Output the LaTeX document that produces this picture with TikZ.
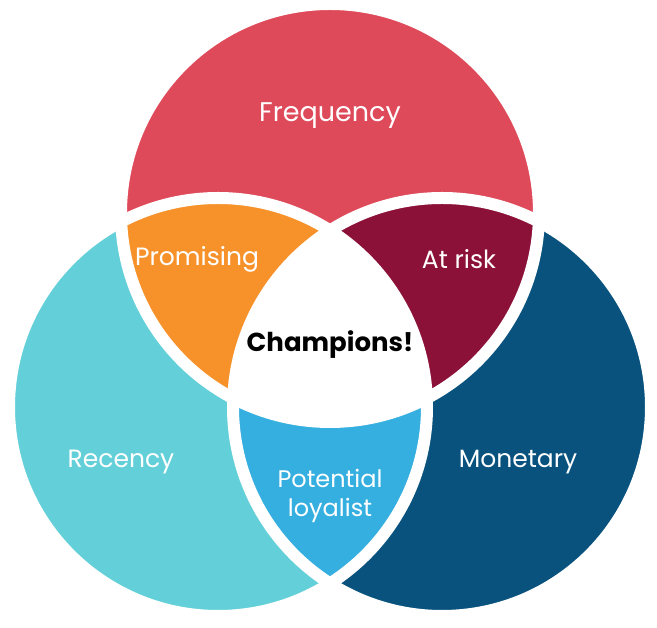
\documentclass[tikz,border=0pt]{standalone}
\usepackage{fontspec}
\setmainfont{Poppins}
\usepackage{xcolor}
\usepackage{tikz}
\usetikzlibrary{positioning, calc}

\definecolor{freqred}{HTML}{DF4A5A}
\definecolor{recencycyan}{HTML}{63D0D9}
\definecolor{monetarynavy}{HTML}{08527D}
\definecolor{promisingorange}{HTML}{F7922B}
\definecolor{atriskmaroon}{HTML}{8C1139}
\definecolor{loyalistblue}{HTML}{35AEE0}

\tikzset{
  gap/.style={draw=white, line width=12pt},
  seglabel/.style={text=white, font=\fontsize{25}{30}\selectfont, align=center},
  biglabel/.style={text=white, font=\fontsize{27}{32}\selectfont},
}

\begin{document}
\begin{tikzpicture}[x=1pt, y=1pt]
				\useasboundingbox (0,0) rectangle (657,628);
				\coordinate (ctop) at (330,415);
				\coordinate (cleft) at (218,221);
				\coordinate (cright) at (442,221);
				\def\rad{209pt}
				% the three sets
				\fill[freqred] (ctop) circle[radius=\rad];
				\fill[recencycyan] (cleft) circle[radius=\rad];
				\fill[monetarynavy] (cright) circle[radius=\rad];
				% pairwise overlaps
				\begin{scope}
					\clip (ctop) circle[radius=\rad];
					\fill[promisingorange] (cleft) circle[radius=\rad];
					\fill[atriskmaroon] (cright) circle[radius=\rad];
				\end{scope}
				\begin{scope}
					\clip (cleft) circle[radius=\rad];
					\fill[loyalistblue] (cright) circle[radius=\rad];
					\clip (ctop) circle[radius=\rad];
					\fill[white] (cright) circle[radius=\rad];
				\end{scope}
				% white gaps
				\draw[gap] (ctop) circle[radius=\rad];
				\draw[gap] (cleft) circle[radius=\rad];
				\draw[gap] (cright) circle[radius=\rad];
				% labels
				\node[biglabel] (frequency) at (330,512) {Frequency};
				\node[seglabel] (recency) at (121,166) {Recency};
				\node[seglabel] (monetary) at (518,166) {Monetary};
				\node[seglabel] (promising) at (197,369) {Promising};
				\node[seglabel] (atrisk) at (459,369) {At risk};
				\node[seglabel, font=\fontsize{24}{29}\selectfont] (loyalist) at (330,132) {Potential\\loyalist};
				\node[font=\bfseries\fontsize{26}{31}\selectfont] (champions) at (330,283) {Champions!};
			\end{tikzpicture}
\end{document}
